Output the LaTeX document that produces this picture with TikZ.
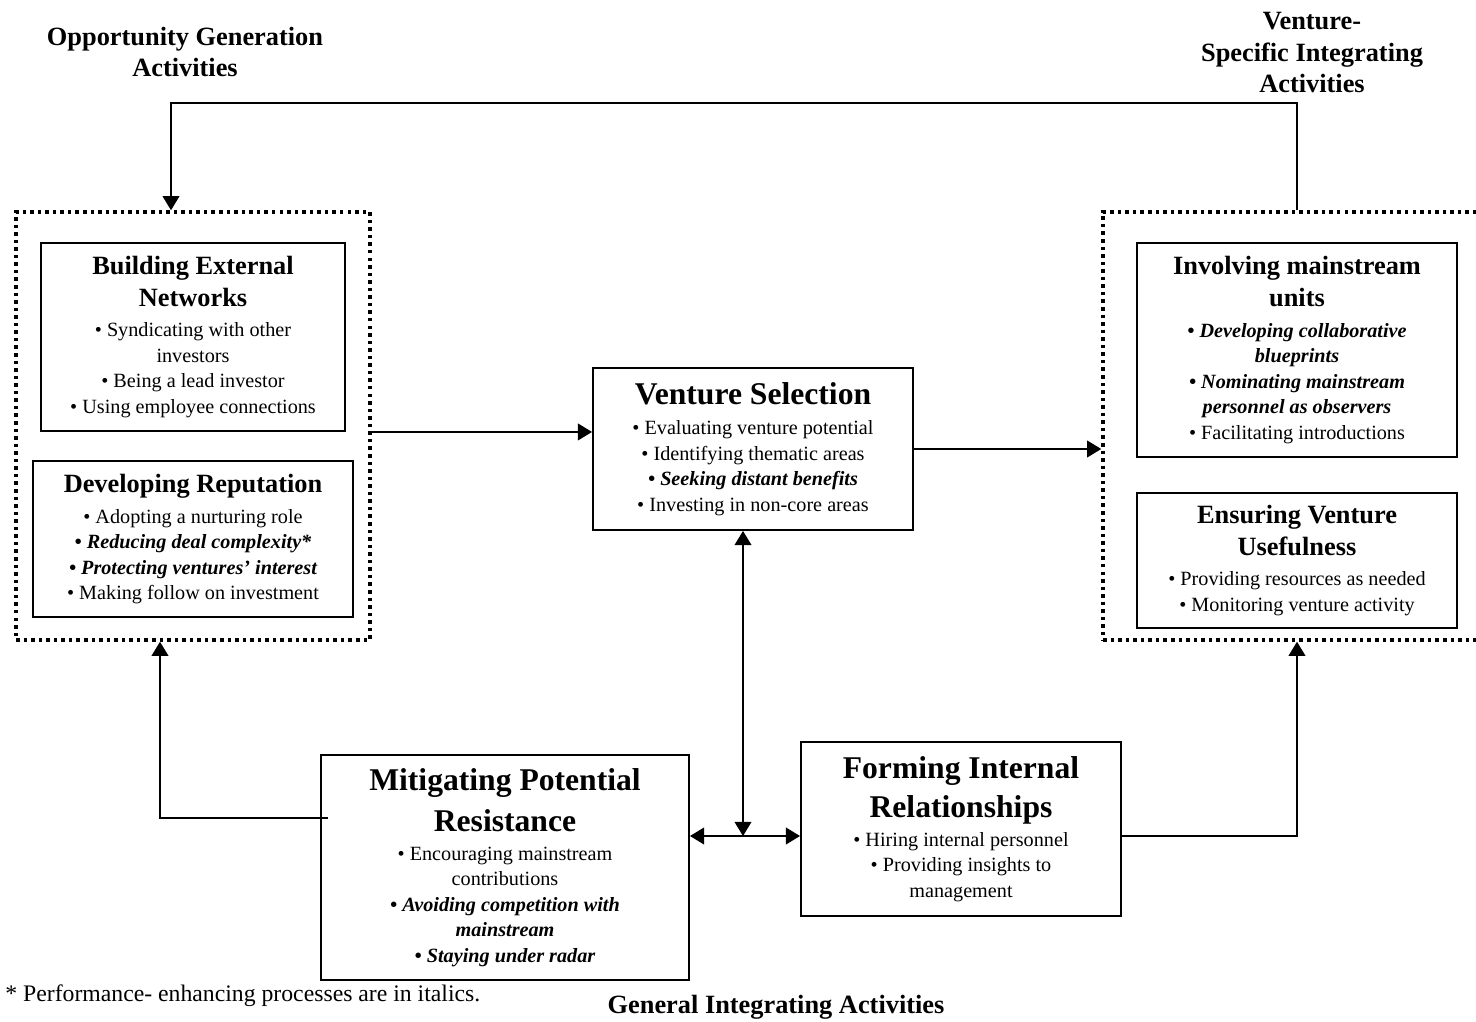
\documentclass[tikz,border=0pt]{standalone}
\usepackage{fontspec}
\setmainfont{Liberation Serif}
\usetikzlibrary{arrows.meta}

\newcommand{\bodysz}{\fontsize{11.5}{14.5}\selectfont}
\newcommand{\hdsz}{\fontsize{15}{17.6}\selectfont\bfseries}
\newcommand{\bigsz}{\fontsize{18}{23}\selectfont\bfseries}
\newcommand{\pe}[1]{{\bfseries\itshape #1}}

\begin{document}
\begin{tikzpicture}[
    box/.style={draw, line width=1.1pt, align=center, font=\bodysz, inner sep=2pt},
    grp/.style={draw, line width=2pt, dash pattern=on 2pt off 2.3pt},
    grplabel/.style={align=center, font=\hdsz},
    arr/.style={line width=0.8pt, -{Triangle[length=8pt,width=9.5pt]}},
    arrboth/.style={line width=0.8pt, {Triangle[length=8pt,width=9.5pt]}-{Triangle[length=8pt,width=9.5pt]}},
]
    \useasboundingbox (0,0) rectangle (29.52,-20.44);
    %
    \node[grplabel] (opplab) at (3.70,-1.04) {Opportunity Generation\\Activities};
    \node[grplabel] (venlab) at (26.24,-1.05) {Venture-\\[0.6pt]Specific Integrating\\[0.6pt]Activities};
    \node[grplabel] (genlab) at (15.52,-20.15) {General Integrating Activities};
    \node[anchor=west, inner sep=0pt, font=\fontsize{13.5}{16}\selectfont] (note) at (0.10,-19.92) {* Performance- enhancing processes are in italics.};
    %
    \node[grp, minimum width=7.08cm, minimum height=8.56cm] (oppgrp) at (3.86,-8.52) {};
    \node[grp, minimum width=7.54cm, minimum height=8.56cm] (vengrp) at (25.83,-8.52) {};
    %
    \node[box, minimum width=6.08cm, minimum height=3.76cm] (bext) at (3.86,-6.74)
        {{\hdsz Building External}\\[3.5pt]{\hdsz Networks}\\[3pt]• Syndicating with other\\investors\\• Being a lead investor\\• Using employee connections};
    \node[box, minimum width=6.40cm, minimum height=3.12cm] (drep) at (3.86,-10.78)
        {{\hdsz Developing Reputation}\\[3pt]• Adopting a nurturing role\\\pe{• Reducing deal complexity*}\\\pe{• Protecting ventures’ interest}\\• Making follow on investment};
    %
    \node[box, minimum width=6.40cm, minimum height=3.24cm] (vsel) at (15.06,-8.98)
        {{\bigsz Venture Selection}\\[3pt]• Evaluating venture potential\\• Identifying thematic areas\\\pe{• Seeking distant benefits}\\• Investing in non-core areas};
    %
    \node[box, minimum width=6.40cm, minimum height=4.28cm] (invol) at (25.94,-7.00)
        {{\hdsz Involving mainstream}\\[3.5pt]{\hdsz units}\\[3pt]\pe{• Developing collaborative}\\\pe{blueprints}\\\pe{• Nominating mainstream}\\\pe{personnel as observers}\\• Facilitating introductions};
    \node[box, minimum width=6.40cm, minimum height=2.70cm] (ensur) at (25.94,-11.21)
        {{\hdsz Ensuring Venture}\\[3.5pt]{\hdsz Usefulness}\\[3pt]• Providing resources as needed\\• Monitoring venture activity};
    %
    \node[box, minimum width=7.36cm, minimum height=4.50cm] (mitig) at (10.10,-17.35)
        {{\bigsz Mitigating Potential}\\[6pt]{\bigsz Resistance}\\[2pt]• Encouraging mainstream\\contributions\\\pe{• Avoiding competition with}\\\pe{mainstream}\\\pe{• Staying under radar}};
    \node[box, minimum width=6.40cm, minimum height=3.48cm] (form) at (19.22,-16.58)
        {{\bigsz Forming Internal}\\[4.5pt]{\bigsz Relationships}\\[2pt]• Hiring internal personnel\\• Providing insights to\\management};
    %
    \coordinate (topL) at (3.42,-2.06);
    \coordinate (jn) at (14.86,-16.72);
    \coordinate (mexit) at (6.56,-16.36);
    \coordinate (upL) at (3.20,-16.36);
    %
    \draw[arr] (invol |- vengrp.north) |- (topL) -- (topL |- oppgrp.north);
    \draw[arr] (oppgrp.east |- bext.south) -- (vsel.west |- bext.south);
    \draw[arr] (vsel.east) -- (vsel.east -| vengrp.west);
    \draw[arrboth] (jn |- vsel.south) -- (jn);
    \draw[arrboth] (mitig.east |- jn) -- (form.west |- jn);
    \draw[arr] (mexit) -- (upL) -- (upL |- oppgrp.south);
    \draw[arr] (form.east |- jn) -| (invol |- vengrp.south);
\end{tikzpicture}
\end{document}
